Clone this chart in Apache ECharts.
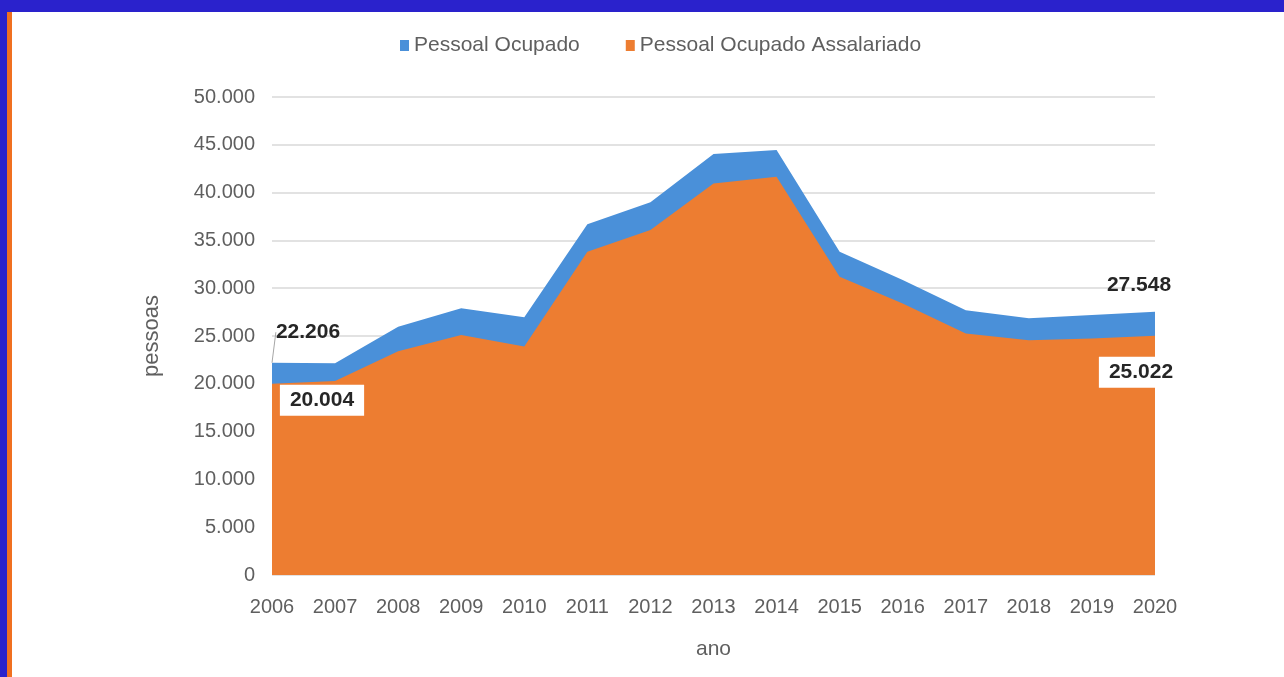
<!DOCTYPE html>
<html>
<head>
<meta charset="utf-8">
<script src="https://cdn.jsdelivr.net/npm/echarts@6/dist/echarts.min.js"></script>
<style>
  html, body { margin: 0; padding: 0; background: #fff; }
  #frameTop { position: absolute; left: 0; top: 0; width: 1284px; height: 12px; background: #2a22cc; }
  #frameLeft { position: absolute; left: 0; top: 0; width: 7px; height: 677px; background: #2a22cc; }
  #frameLeft2 { position: absolute; left: 7px; top: 12px; width: 5px; height: 665px; background: #f07020; }
  #chart { position: absolute; left: 0; top: 0; width: 1284px; height: 677px; }
</style>
</head>
<body>
<div id="frameTop"></div>
<div id="frameLeft"></div>
<div id="frameLeft2"></div>
<div id="chart"></div>
<script>
// anos
const anos = ['2006', '2007', '2008', '2009', '2010', '2011', '2012', '2013', '2014', '2015', '2016', '2017', '2018', '2019', '2020'];

// Pessoal Ocupado (total)
const pessoalOcupado = [22206, 22150, 25970, 27900, 26950, 36700, 39000, 44050, 44450, 33800, 30850, 27700, 26850, 27200, 27548];

// Pessoal Ocupado Assalariado
const pessoalAssalariado = [20004, 20300, 23400, 25100, 23900, 33800, 36100, 40950, 41650, 31200, 28400, 25250, 24550, 24750, 25022];

const nomes = ['Pessoal Ocupado', 'Pessoal Ocupado Assalariado'];

// formato pt-BR: 50.000
function fmt(v) {
    return String(Math.round(v)).replace(/\B(?=(\d{3})+(?!\d))/g, '.');
}

const chart = echarts.init(document.getElementById('chart'));

const labelBase = {
    show: true,
    fontFamily: 'Liberation Sans',
    fontSize: 21,
    fontWeight: 'bold',
    color: '#262626',
    formatter: p => fmt(p.value)
};

const last = anos.length - 1;

const dadosTotal = pessoalOcupado.map((v, i) => {
    if (i === 0) {
        return { value: v, label: Object.assign({}, labelBase, { position: 'top' }) };
    }
    if (i === last) {
        return { value: v, label: Object.assign({}, labelBase, { position: 'top' }),
                 labelLine: { show: false } };
    }
    return v;
});

const dadosAssal = pessoalAssalariado.map((v, i) => {
    const box = { backgroundColor: '#fff', padding: [5, 10, 5, 10] };
    if (i === 0) {
        return { value: v, label: Object.assign({}, labelBase, box, { position: 'bottom', offset: [50, -4] }) };
    }
    if (i === last) {
        return { value: v, label: Object.assign({}, labelBase, box, { position: 'bottom', offset: [-14, 16] }) };
    }
    return v;
});

const option = {
    animation: false,
    textStyle: { fontFamily: 'Liberation Sans' },
    legend: {
        top: 30,
        left: 395,
        itemWidth: 9,
        itemHeight: 11,
        itemGap: 46,
        textStyle: { color: '#5f5f5f', fontSize: 21 },
        data: [
            { name: nomes[0], icon: 'rect' },
            { name: nomes[1], icon: 'rect' }
        ]
    },
    grid: {
        left: 272,
        right: 129,
        top: 97,
        bottom: 102
    },
    xAxis: {
        type: 'category',
        data: anos,
        boundaryGap: false,
        name: 'ano',
        nameLocation: 'middle',
        nameGap: 64,
        nameTextStyle: { color: '#5f5f5f', fontSize: 21 },
        axisLine: { show: false },
        axisTick: { show: false },
        axisLabel: { color: '#5f5f5f', fontSize: 20, margin: 22 }
    },
    yAxis: {
        type: 'value',
        min: 0,
        max: 50000,
        interval: 5000,
        name: 'pessoas',
        nameLocation: 'middle',
        nameGap: 109,
        nameTextStyle: { color: '#5f5f5f', fontSize: 22 },
        axisLine: { show: false },
        axisTick: { show: false },
        axisLabel: { color: '#5f5f5f', fontSize: 20, margin: 17, formatter: fmt },
        splitLine: { lineStyle: { color: '#e2e2e2', width: 2 } }
    },
    series: [
        {
            name: nomes[0],
            type: 'line',
            data: dadosTotal,
            symbol: 'circle',
            symbolSize: 0,
            showSymbol: true,
            color: '#4a90d9',
            lineStyle: { width: 0 },
            areaStyle: { color: '#4a90d9', opacity: 1 },
            labelLayout: function (p) {
                if (p.dataIndex === 0) return { dx: 36, dy: -15 };
                if (p.dataIndex === last) return { dx: -16, dy: -11 };
                return {};
            },
            labelLine: { show: true, length2: 0, lineStyle: { color: '#a6a6a6', width: 1 } },
            z: 2
        },
        {
            name: nomes[1],
            type: 'line',
            data: dadosAssal,
            symbol: 'circle',
            symbolSize: 0,
            showSymbol: true,
            color: '#ed7d31',
            lineStyle: { width: 0 },
            areaStyle: { color: '#ed7d31', opacity: 1 },
            z: 3
        }
    ]
};

chart.setOption(option);
</script>
</body>
</html>
